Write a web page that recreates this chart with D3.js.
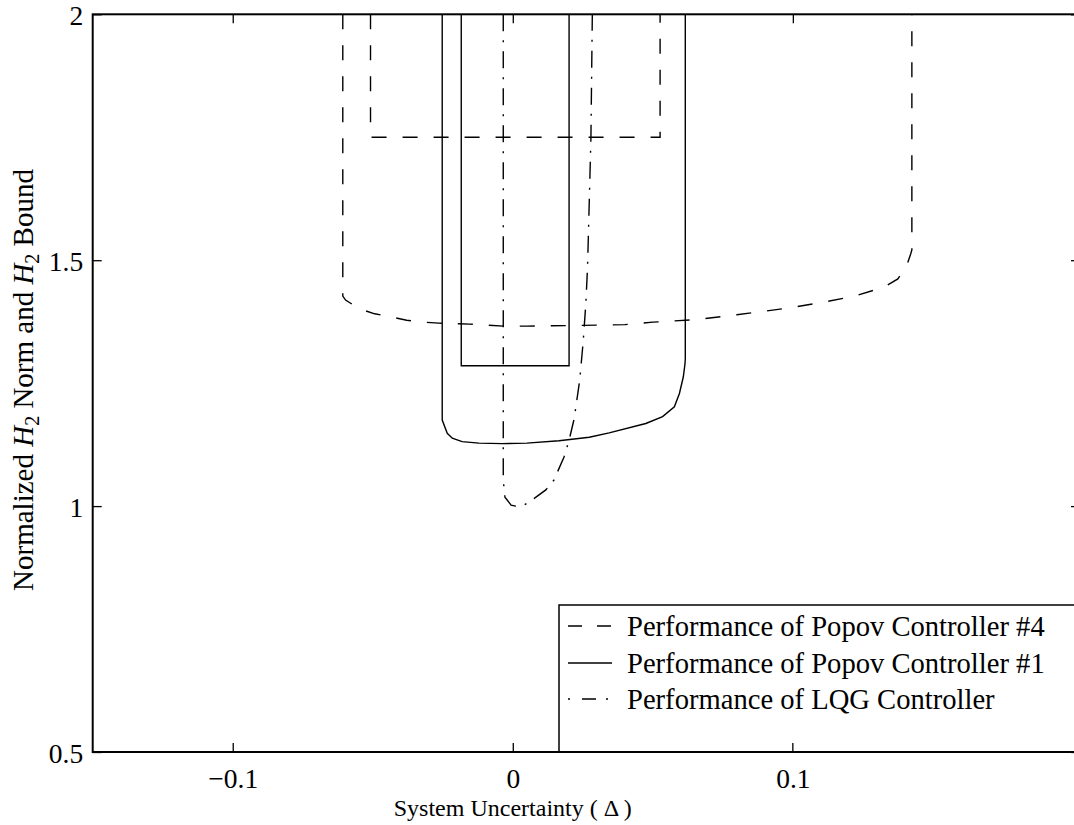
<!DOCTYPE html>
<html>
<head>
<meta charset="utf-8">
<script src="https://cdn.jsdelivr.net/npm/d3@7"></script>
<style>
  html, body { margin: 0; padding: 0; background: #fff; }
  svg { display: block; }
  text { font-family: "Liberation Serif", "Times New Roman", serif; fill: #000; }
</style>
</head>
<body>
<svg id="chart" width="1074" height="825"></svg>
<script>
// Axis ticks
const xTicks = [-0.1, 0, 0.1];
const yTicks = [0.5, 1, 1.5, 2];
const xTickLabels = ["\u22120.1", "0", "0.1"];
const yTickLabels = ["0.5", "1", "1.5", "2"];

// Popov controller #4 (dashed): performance bound over uncertainty range
const popov4OuterDelta = [-0.0607, -0.0607, -0.0597, -0.0547, -0.0493, -0.0436, -0.0379, -0.0321, -0.0264, -0.0207, -0.0153, -0.0095, -0.0031, 0.005, 0.020, 0.040, 0.050, 0.065, 0.080, 0.0988, 0.1102, 0.1214, 0.1325, 0.1375, 0.1406, 0.1421, 0.1425, 0.1425];
const popov4OuterNorm  = [2.0, 1.427, 1.419, 1.401, 1.391, 1.385, 1.378, 1.374, 1.372, 1.371, 1.370, 1.368, 1.366, 1.366, 1.367, 1.369, 1.374, 1.379, 1.389, 1.403, 1.414, 1.426, 1.445, 1.462, 1.488, 1.513, 1.521, 2.0];
const popov4InnerDelta = [-0.0508, -0.0508, 0.0526, 0.0526];
const popov4InnerNorm  = [2.0, 1.750, 1.750, 2.0];

// Popov controller #1 (solid)
const popov1OuterDelta = [-0.0252, -0.0252, -0.0234, -0.0216, -0.0181, -0.0121, -0.0038, 0.005, 0.0165, 0.0273, 0.0344, 0.0475, 0.0535, 0.0577, 0.0595, 0.0609, 0.0615, 0.0616, 0.0616];
const popov1OuterNorm  = [2.0, 1.175, 1.148, 1.138, 1.131, 1.128, 1.127, 1.128, 1.133, 1.140, 1.149, 1.168, 1.182, 1.202, 1.229, 1.263, 1.290, 1.300, 2.0];
const popov1InnerDelta = [-0.0184, -0.0184, 0.0201, 0.0201];
const popov1InnerNorm  = [2.0, 1.2855, 1.2855, 2.0];

// LQG controller (dash-dot)
const lqgDelta = [-0.0034, -0.0034, -0.0028, -0.0006, 0.0010, 0.0036, 0.0058, 0.0118, 0.0147, 0.0183, 0.0201, 0.0219, 0.0239, 0.0251, 0.0261, 0.0267, 0.0279, 0.0284];
const lqgNorm  = [2.0, 1.053, 1.018, 1.002, 1.000, 1.001, 1.008, 1.033, 1.053, 1.100, 1.134, 1.177, 1.256, 1.332, 1.413, 1.487, 1.748, 2.0];

// Legend entries
const legendLabels = ["Performance of Popov Controller #4", "Performance of Popov Controller #1", "Performance of LQG Controller"];

const svg = d3.select("#chart");
const plotLeft = 92.7, plotRight = 1072.9, plotTop = 14.3, plotBottom = 752;
const frameRight = 1080;
const serif = "'Liberation Serif', 'Times New Roman', serif";

const x = d3.scaleLinear().domain([-0.15, 0.2]).range([plotLeft, plotRight]);
const y = d3.scaleLinear().domain([0.5, 2]).range([plotBottom, plotTop]);

const DASH = "15,16";
const DASHDOT = "17,9,2,9";

const line = d3.line().x(d => x(d[0])).y(d => y(d[1]));
const zip = (a, b) => a.map((v, i) => [v, b[i]]);

const curves = [
  { pts: zip(popov4OuterDelta, popov4OuterNorm), dash: DASH },
  { pts: zip(popov4InnerDelta, popov4InnerNorm), dash: DASH },
  { pts: zip(popov1OuterDelta, popov1OuterNorm), dash: null },
  { pts: zip(popov1InnerDelta, popov1InnerNorm), dash: null },
  { pts: zip(lqgDelta, lqgNorm), dash: DASHDOT }
];

svg.append("defs").append("clipPath").attr("id", "plotClip")
  .append("rect").attr("x", plotLeft).attr("y", plotTop)
  .attr("width", frameRight - plotLeft).attr("height", plotBottom - plotTop);

const plot = svg.append("g").attr("clip-path", "url(#plotClip)");
plot.selectAll("path.curve").data(curves).join("path")
  .attr("class", "curve")
  .attr("d", d => line(d.pts))
  .attr("fill", "none")
  .attr("stroke", "#000")
  .attr("stroke-width", 1.4)
  .attr("stroke-linejoin", "miter")
  .attr("stroke-dasharray", d => d.dash);

// Axes with inward ticks on all four sides
const fontSize = 27.5;
const xAxis = svg.append("g").attr("transform", `translate(0,${plotBottom})`)
  .call(d3.axisBottom(x).tickValues(xTicks).tickSize(-9).tickPadding(16)
    .tickFormat((d, i) => xTickLabels[i]));
const xAxisTop = svg.append("g").attr("transform", `translate(0,${plotTop})`)
  .call(d3.axisTop(x).tickValues(xTicks).tickSize(-9).tickFormat(""));
const yAxis = svg.append("g").attr("transform", `translate(${plotLeft},0)`)
  .call(d3.axisLeft(y).tickValues(yTicks).tickSize(-9).tickPadding(9.5)
    .tickFormat((d, i) => yTickLabels[i]));
const yAxisRight = svg.append("g").attr("transform", `translate(${frameRight},0)`)
  .call(d3.axisRight(y).tickValues(yTicks).tickSize(-9).tickFormat(""));

[xAxis, xAxisTop, yAxis, yAxisRight].forEach(g => {
  g.attr("font-family", serif);
  g.select(".domain").remove();
  g.selectAll(".tick line").attr("stroke", "#000").attr("stroke-width", 1.3);
  g.selectAll(".tick text")
    .attr("font-family", serif)
    .attr("font-size", fontSize)
    .attr("fill", "#000");
});
yAxis.selectAll(".tick text").attr("dy", "0.38em");

// Plot frame
svg.append("rect")
  .attr("x", plotLeft).attr("y", plotTop)
  .attr("width", frameRight - plotLeft).attr("height", plotBottom - plotTop)
  .attr("fill", "none").attr("stroke", "#000").attr("stroke-width", 2);

// Legend
const legend = svg.append("g").attr("font-family", serif);
legend.append("rect")
  .attr("x", 559).attr("y", 605)
  .attr("width", 600).attr("height", plotBottom - 605)
  .attr("fill", "#fff").attr("stroke", "#000").attr("stroke-width", 1.5);

const legendDashes = ["14,15", null, "2,12,14,10"];
const rowBase = [636, 673, 709];
legendLabels.forEach((label, i) => {
  legend.append("line")
    .attr("x1", 568).attr("x2", 612)
    .attr("y1", rowBase[i] - 10).attr("y2", rowBase[i] - 10)
    .attr("stroke", "#000").attr("stroke-width", 1.4)
    .attr("stroke-dasharray", legendDashes[i]);
  legend.append("text")
    .attr("x", 627).attr("y", rowBase[i])
    .attr("font-size", 28.6)
    .text(label);
});
// Bottom axis line and the 0.1 tick, drawn again over the legend box edge
svg.append("line").attr("x1", plotLeft).attr("x2", 1074).attr("y1", plotBottom).attr("y2", plotBottom)
  .attr("stroke", "#000").attr("stroke-width", 2);
svg.append("line").attr("x1", x(0.1)).attr("x2", x(0.1)).attr("y1", plotBottom).attr("y2", plotBottom - 9)
  .attr("stroke", "#000").attr("stroke-width", 1.3);

// Axis titles
svg.append("text")
  .attr("x", x(0)).attr("y", 816)
  .attr("text-anchor", "middle")
  .attr("font-family", serif)
  .attr("font-size", 24)
  .text("System Uncertainty ( \u0394 )");

const yl = svg.append("text")
  .attr("transform", `translate(33,380) rotate(-90)`)
  .attr("text-anchor", "middle")
  .attr("font-family", serif)
  .attr("font-size", 29);
yl.append("tspan").text("Normalized  ");
yl.append("tspan").attr("font-style", "italic").text("H");
yl.append("tspan").attr("font-size", 20).attr("dy", 6).text("2");
yl.append("tspan").attr("dy", -6).text(" Norm and  ");
yl.append("tspan").attr("font-style", "italic").text("H");
yl.append("tspan").attr("font-size", 20).attr("dy", 6).text("2");
yl.append("tspan").attr("dy", -6).text(" Bound");
</script>
</body>
</html>
